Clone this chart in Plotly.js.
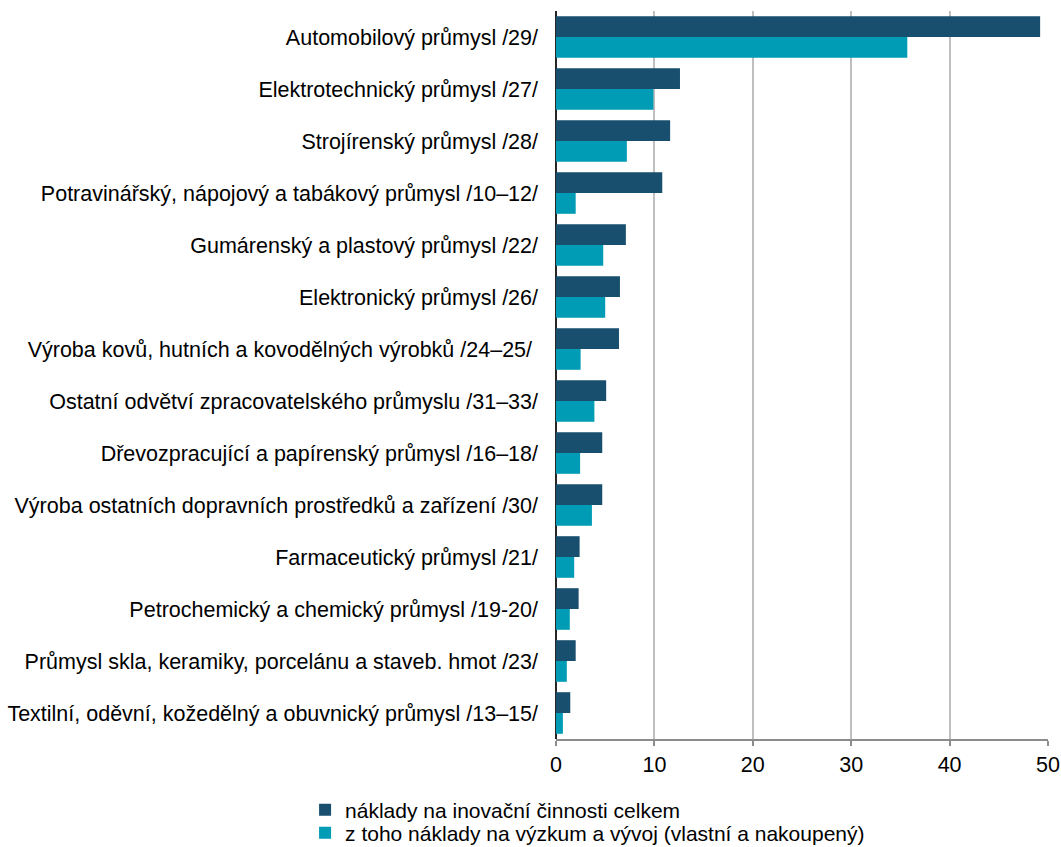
<!DOCTYPE html>
<html><head><meta charset="utf-8">
<script src="https://cdn.plot.ly/plotly-3.0.1.min.js"></script>
<style>html,body{margin:0;padding:0;background:#fff}#chart{width:1061px;height:847px}</style>
</head><body><div id="chart"></div>
<script>
const categories = [
  "Automobilový průmysl /29/",
  "Elektrotechnický průmysl /27/",
  "Strojírenský průmysl /28/",
  "Potravinářský, nápojový a tabákový průmysl /10–12/",
  "Gumárenský a plastový průmysl /22/",
  "Elektronický průmysl /26/",
  "Výroba kovů, hutních a kovodělných výrobků /24–25/ ",
  "Ostatní odvětví zpracovatelského průmyslu /31–33/",
  "Dřevozpracující a papírenský průmysl /16–18/",
  "Výroba ostatních dopravních prostředků a zařízení /30/",
  "Farmaceutický průmysl /21/",
  "Petrochemický a chemický průmysl /19-20/",
  "Průmysl skla, keramiky, porcelánu a staveb. hmot /23/",
  "Textilní, oděvní, kožedělný a obuvnický průmysl /13–15/"
];
const totalCosts = [49.2, 12.6, 11.6, 10.8, 7.1, 6.5, 6.4, 5.1, 4.7, 4.7, 2.4, 2.3, 2.0, 1.45];
const rdCosts    = [35.7, 9.9, 7.2, 2.0, 4.8, 5.0, 2.5, 3.9, 2.45, 3.65, 1.85, 1.4, 1.1, 0.7];
const seriesNames = ["náklady na inovační činnosti celkem", "z toho náklady na výzkum a vývoj (vlastní a nakoupený)"];
const xTicks = [0, 10, 20, 30, 40, 50];

const font = {family: "Liberation Sans, Arial, sans-serif", size: 21.5, color: "#000"};
const legendFont = {family: "Liberation Sans, Arial, sans-serif", size: 21, color: "#000"};
const data = [
  {type: "bar", orientation: "h", y: categories, x: totalCosts, name: seriesNames[0],
   marker: {color: "#184f6e"}, legend: "legend"},
  {type: "bar", orientation: "h", y: categories, x: rdCosts, name: seriesNames[1],
   marker: {color: "#009bb4"}, legend: "legend2"}
];
const legBase = {orientation: "v", xref: "paper", yref: "container", x: -0.510, xanchor: "left",
                 yanchor: "middle", font: legendFont, itemwidth: 30, bgcolor: "rgba(0,0,0,0)",
                 borderwidth: 0};
const layout = {
  width: 1061, height: 847,
  margin: {l: 556, r: 13, t: 11, b: 108, pad: 0},
  font: font,
  barmode: "group", bargap: 0.2, bargroupgap: 0,
  paper_bgcolor: "#fff", plot_bgcolor: "#fff",
  showlegend: true,
  legend: Object.assign({}, legBase, {y: (847 - 810) / 847}),
  legend2: Object.assign({}, legBase, {y: (847 - 833) / 847}),
  xaxis: {range: [0, 50], tickvals: xTicks, showgrid: true, gridcolor: "#bfbfbf", gridwidth: 2,
          zeroline: true, zerolinecolor: "#262626", zerolinewidth: 2,
          showline: true, linecolor: "#8c8c8c", linewidth: 2,
          ticks: "outside", ticklen: 5, tickcolor: "#8c8c8c", tickwidth: 2,
          tickfont: font, fixedrange: true, automargin: false},
  yaxis: {autorange: "reversed", type: "category", showgrid: false, zeroline: false,
          showline: false, ticks: "", ticklabelstandoff: 17, tickfont: font, fixedrange: true,
          automargin: false}
};
Plotly.newPlot("chart", data, layout, {displayModeBar: false, staticPlot: true});
</script></body></html>
